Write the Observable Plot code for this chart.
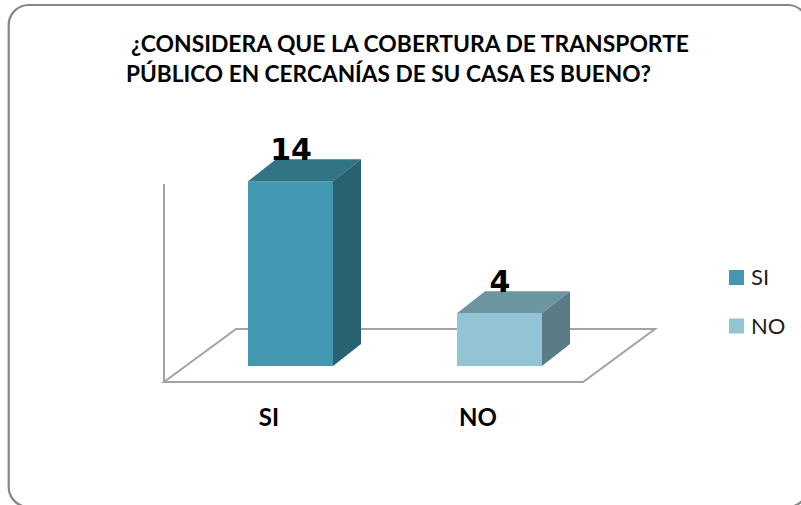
<!DOCTYPE html>
<html><head><meta charset="utf-8">
<script src="https://cdn.jsdelivr.net/npm/d3@7"></script>
<script src="https://cdn.jsdelivr.net/npm/@observablehq/plot@0.6"></script>
<style>html,body{margin:0;padding:0;background:#fff;}</style>
</head><body><div id="chart"></div>
<script>
// ---- data ----
const titleLines = ["¿CONSIDERA QUE LA COBERTURA DE TRANSPORTE", "PÚBLICO EN CERCANÍAS DE SU CASA ES BUENO?"];
const categories = ["SI", "NO"];
const values = [14, 4];
const frontColors = ["#4298b1", "#93c4d6"];
const topColors = ["#317484", "#6c95a2"];
const sideColors = ["#286270", "#5b7c87"];
const yMax = 15;

const data = categories.map((c, i) => ({cat: c, value: values[i], front: frontColors[i], top: topColors[i], side: sideColors[i]}));

// ---- layout ----
const W = 801, H = 505;
const FLOOR = {dx: 72, dy: -53};
const BAR_FRONT = {dx: 21, dy: -16};
const BAR_DEPTH = {dx: 28, dy: -22};
const BAR_INSET = 62;

function bandwidthOf(scales, dim) {
  return scales.x && scales.x.bandwidth ? scales.x.bandwidth() : (dim.width - dim.marginLeft - dim.marginRight) / categories.length;
}

function decor(index, scales, values, dim) {
  const g = d3.create("svg:g");
  g.append("rect").attr("x", 8.7).attr("y", 5).attr("width", 799).attr("height", 502)
    .attr("rx", 20).attr("fill", "none").attr("stroke", "#878787").attr("stroke-width", 2.2);
  const tl = [{x: 131, y: 52, len: 558}, {x: 126, y: 82, len: 525}];
  titleLines.forEach((t, i) => {
    g.append("text").attr("x", tl[i].x).attr("y", tl[i].y).attr("text-anchor", "start")
      .attr("textLength", tl[i].len).attr("lengthAdjust", "spacingAndGlyphs")
      .attr("font-family", "Lato").attr("font-weight", "bold").attr("font-size", 22)
      .attr("fill", "#000").text(t);
  });
  return g.node();
}

function floor(index, scales, values, dim) {
  const g = d3.create("svg:g").attr("fill", "none").attr("stroke", "#a3a3a3").attr("stroke-width", 2);
  const x0 = dim.marginLeft, x1 = dim.width - dim.marginRight, y0 = scales.y(0);
  g.append("path").attr("d",
    `M${x0},${y0}L${x1},${y0}L${x1 + FLOOR.dx},${y0 + FLOOR.dy}L${x0 + FLOOR.dx},${y0 + FLOOR.dy}Z`);
  g.append("path").attr("d", `M${x0},${y0}L${x0},${scales.y(yMax)}`);
  return g.node();
}

function faces(index, scales, values, dim) {
  const g = d3.create("svg:g");
  const bw = bandwidthOf(scales, dim);
  data.forEach(d => {
    const xl = scales.x(d.cat) + BAR_INSET + BAR_FRONT.dx;
    const xr = scales.x(d.cat) + bw - BAR_INSET + BAR_FRONT.dx;
    const yt = scales.y(d.value) + BAR_FRONT.dy;
    const yb = scales.y(0) + BAR_FRONT.dy;
    const ddx = BAR_DEPTH.dx, ddy = BAR_DEPTH.dy;
    g.append("path").attr("fill", d.top)
      .attr("d", `M${xl},${yt}L${xr},${yt}L${xr + ddx},${yt + ddy}L${xl + ddx},${yt + ddy}Z`);
    g.append("path").attr("fill", d.side)
      .attr("d", `M${xr},${yt}L${xr + ddx},${yt + ddy}L${xr + ddx},${yb + ddy}L${xr},${yb}Z`);
  });
  return g.node();
}

function legend(index, scales, values, dim) {
  const g = d3.create("svg:g");
  categories.forEach((c, i) => {
    const y = 270 + i * 48.5;
    g.append("rect").attr("x", 729).attr("y", y).attr("width", 15).attr("height", 15).attr("fill", frontColors[i]);
    g.append("text").attr("x", 751).attr("y", y + 15).attr("text-anchor", "start")
      .attr("font-family", "Lato").attr("font-size", 22)
      .attr("fill", "#1e1e1e").text(c);
  });
  return g.node();
}

const chart = Plot.plot({
  width: W, height: H,
  marginLeft: 164, marginRight: 218, marginTop: 184, marginBottom: 123,
  style: {fontFamily: "Lato", background: "white", overflow: "visible"},
  x: {domain: categories, padding: 0, axis: null},
  y: {domain: [0, yMax], axis: null},
  color: {type: "identity"},
  marks: [
    decor,
    floor,
    Plot.barY(data, {x: "cat", y: "value", fill: "front", insetLeft: BAR_INSET, insetRight: BAR_INSET, dx: BAR_FRONT.dx, dy: BAR_FRONT.dy}),
    faces,
    Plot.text(data, {x: "cat", y: "value", text: d => String(d.value), dx: BAR_FRONT.dx, dy: -38, lineAnchor: "bottom",
      fontSize: 30, fontWeight: "bold", fontFamily: "DejaVu Sans", fill: "#000"}),
    Plot.text(categories, {x: d => d, frameAnchor: "bottom", dx: -1, dy: 43, lineAnchor: "bottom",
      fontSize: 24, fontWeight: "bold", fontFamily: "Lato", fill: "#000"}),
    legend
  ]
});
document.getElementById("chart").appendChild(chart);
</script>
</body></html>
